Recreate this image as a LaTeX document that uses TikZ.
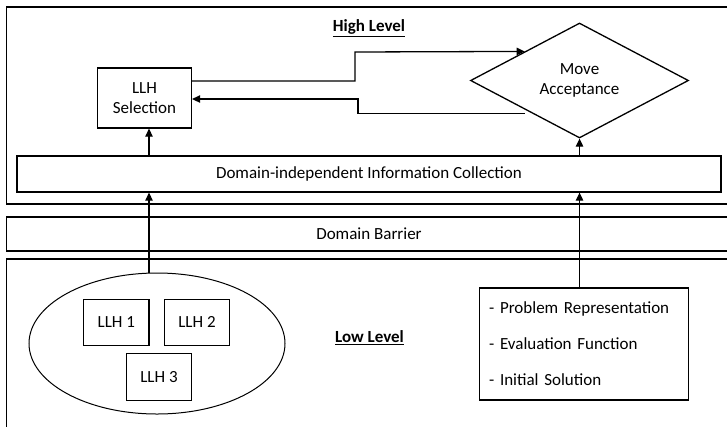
\documentclass[tikz,border=0pt]{standalone}
\usepackage{fontspec}
\setmainfont{Carlito}
\usetikzlibrary{shapes,arrows,arrows.meta,positioning,calc}

\tikzset{
	box/.style = {draw, line width=1.3pt, align=center, inner sep=0pt},
	dia/.style = {draw, line width=1.3pt, diamond, align=center, inner sep=0pt,
		minimum width=218pt, minimum height=115pt},
	flow/.style = {-{Triangle[length=8pt,width=7.5pt]}, line width=1.3pt},
	layer/.style = {line width=1.3pt}
}

\begin{document}
\begin{tikzpicture}[x=1pt,y=-1pt,font=\fontsize{17}{20}\selectfont]
	\useasboundingbox (0,0) rectangle (727,426);
	% the three layers
	\draw[layer] (6.5,7) rectangle (740,204);
	\draw[layer] (6.5,217) rectangle (740,251);
	\draw[layer] (6.5,259) rectangle (740,440);
	\node (high) at (369,28) {\textbf{\underline{High Level}}};
	\node (barrier) at (369,234) {Domain Barrier};
	\node (low) at (369.5,338) {\textbf{\underline{Low Level}}};

	% high level
	\node[box, minimum width=94pt, minimum height=60pt] (sel) at (144.5,98) {LLH\\Selection};
	\node[dia] (acc) at (579.5,80.5) {Move\\Acceptance};
	\node[box, minimum width=704pt, minimum height=36pt] (info) at (369,174)
		{Domain-independent Information Collection};

	% low level
	\node[draw, ellipse, line width=1pt, minimum width=256pt, minimum height=141pt] (pool) at (157,343.5) {};
	\node[box, minimum width=65.5pt, minimum height=46.5pt] (llh1) at (116.3,322.4) {LLH 1};
	\node[box, minimum width=65.5pt, minimum height=46.5pt] (llh2) at (197,322.4) {LLH 2};
	\node[box, minimum width=65.5pt, minimum height=46.5pt] (llh3) at (159,377) {LLH 3};
	\node[draw, line width=1.3pt, anchor=west, text width=189pt, inner xsep=10pt, inner ysep=0pt,
		minimum height=112pt, align=left, font=\fontsize{17}{36}\selectfont] (prob) at (478.5,344)
		{- Problem Representation\\- Evaluation Function\\- Initial Solution};

	% connectors
	\coordinate (colL) at (149,0);
	\coordinate (colR) at (579.5,0);
	\coordinate (bend1) at (355,52);
	\coordinate (bend2) at (358,99);
	\draw[flow] (pool.north -| colL) -- (info.south -| colL);
	\draw[flow] (prob.north -| colR) -- (info.south -| colR);
	\draw[flow] (info.north -| colL) -- (sel.south -| colL);
	\draw[flow] (info.north -| colR) -- (acc.south);
	\draw[flow] (sel.east |- 0,81) -| (bend1) -- (acc.north west);
	\draw[flow] ([yshift=-4pt]acc.south west) -| (bend2) -- (sel.east |- bend2);
\end{tikzpicture}
\end{document}
